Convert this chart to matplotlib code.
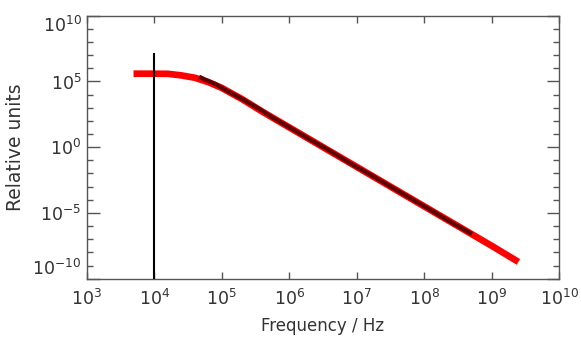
import matplotlib
matplotlib.use("Agg")
import matplotlib.pyplot as plt
from matplotlib.ticker import FixedLocator, NullLocator, NullFormatter
import numpy as np

# model curve (red)
model_freq = [4.9e3, 1.0e4, 1.6e4, 2.5e4, 4.0e4, 6.3e4, 1.0e5, 2.0e5,
              4.0e5, 1.0e6, 1.0e7, 1.0e8, 1.0e9, 2.5e9]
model_val = [3.9e5, 3.9e5, 3.8e5, 2.9e5, 1.9e5, 8.9e4, 3.2e4, 4.5e3,
             5.0e2, 3.2e1, 3.2e-2, 3.2e-5, 3.2e-8, 1.9e-9]

# measured curve (dark), slightly noisy
meas_freq = [4.6e4, 6.0e4, 8.0e4, 1.2e5, 2.0e5, 3.5e5, 6.0e5, 1.0e6,
             2.0e6, 4.0e6, 8.0e6, 1.5e7, 3.0e7, 6.0e7, 1.2e8, 2.5e8, 5.1e8]
meas_val = [2.3e5, 1.2e5, 6.5e4, 1.9e4, 4.6e3, 8.9e2, 1.5e2, 3.3e1,
            4.0e0, 5.3e-1, 6.0e-2, 9.8e-3, 1.2e-3, 1.5e-4, 1.9e-5, 2.0e-6, 2.5e-7]

# vertical marker
marker_freq = 1.0e4
marker_top = 1.2e7

ymin, ymax = 1e-10, 1e10
xmin, xmax = 1e3, 1e10

fig = plt.figure(figsize=(5.81, 3.43), dpi=100)
ax = fig.add_axes([0.1497, 0.1875, 0.8124, 0.7667])

ax.plot(model_freq, model_val, color='#ff0000', lw=4.8, solid_capstyle='butt', zorder=2)
ax.plot(meas_freq, meas_val, color='#5e0000', lw=3.0, solid_capstyle='butt', zorder=3)
ax.plot([marker_freq, marker_freq], [ymin, marker_top], color='black', lw=1.5, zorder=4)

ax.set_xscale('log')
ax.set_yscale('log')
ax.set_xlim(xmin, xmax)
ax.set_ylim(ymin, ymax)

xt = [10.0 ** k for k in range(3, 11)]
ax.xaxis.set_major_locator(FixedLocator(xt))
ax.xaxis.set_minor_locator(NullLocator())
ax.set_xticklabels([r'$10^{%d}$' % k for k in range(3, 11)])

yt = [10.0 ** k for k in range(-10, 11, 5)]
ax.yaxis.set_major_locator(FixedLocator(yt))
ax.yaxis.set_minor_locator(FixedLocator([10.0 ** k for k in range(-10, 11) if k % 5]))
ax.yaxis.set_minor_formatter(NullFormatter())
ax.set_yticklabels([r'$10^{%d}$' % k for k in range(-10, 11, 5)])

tc = '#333333'
for s in ax.spines.values():
    s.set_color('#555555')
    s.set_linewidth(1.0)
ax.tick_params(which='both', direction='in', top=True, right=True,
               colors='#555555', labelcolor=tc, labelsize=12.5, width=1.0)
ax.tick_params(axis='x', which='major', length=5, pad=7)
ax.tick_params(axis='y', which='major', length=9, pad=4)
ax.tick_params(axis='y', which='minor', length=4.5)

# end labels pulled inside the axis range
yticks = ax.yaxis.get_major_ticks()
yticks[0].label1.set_verticalalignment('bottom')
yticks[-1].label1.set_verticalalignment('top')

ax.set_xlabel('Frequency / Hz', fontsize=12, color=tc, labelpad=6)
ax.set_ylabel('Relative units', fontsize=13.5, color=tc, labelpad=5)

plt.savefig('out.png', dpi=100)
